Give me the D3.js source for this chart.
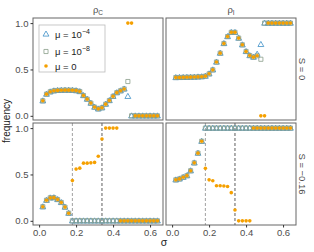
<!DOCTYPE html>
<html><head><meta charset="utf-8">
<script src="https://cdn.jsdelivr.net/npm/d3@7"></script>
<style>body{margin:0;background:#fff}svg{display:block;font-family:"Liberation Sans",Arial,sans-serif}</style>
</head><body><svg id="c" width="314" height="252"></svg>
<script>
const sigma = [0.02,0.04,0.06,0.08,0.10,0.12,0.14,0.16,0.18,0.20,0.22,0.24,0.26,0.28,0.30,0.32,0.34,0.36,0.38,0.40,0.42,0.44,0.46,0.48,0.50,0.52,0.54,0.56,0.58,0.60,0.62,0.64];
const xTicks = [0, 0.2, 0.4, 0.6];
const xTickLabels = ["0.0","0.2","0.4","0.6"];
const yTicks = [0, 0.5, 1];
const yTickLabels = ["0.0","0.5","1.0"];
const colLabels = ["C","I"];
const rowLabels = ["S = 0","S = \u22120.16"];
const seriesNames = ["mu4","mu8","mu0"];
const legendExp = ["\u22124","\u22128",null];
const vlines = [0.18, 0.34];

// rhoC, S = 0
const rhoC_S0_mu4 = [0.162,0.234,0.259,0.27,0.274,0.276,0.277,0.277,0.276,0.272,0.262,0.219,0.18,0.137,0.094,0.075,0.087,0.126,0.165,0.21,0.25,0.27,0.29,0.21,0,0,0,0,0,0,0,0];
const rhoC_S0_mu8 = [0.162,0.234,0.259,0.27,0.274,0.276,0.277,0.277,0.276,0.272,0.262,0.219,0.18,0.137,0.094,0.075,0.087,0.126,0.165,0.21,0.25,0.27,0.29,0.37,0,0,0,0,0,0,0,0];
const rhoC_S0_mu0 = [0.162,0.234,0.259,0.27,0.274,0.276,0.277,0.277,0.276,0.272,0.262,0.219,0.18,0.137,0.094,0.075,0.087,0.126,0.165,0.21,0.25,0.27,0.29,1,1,0,0,0,0,0,0,0];
// rhoI, S = 0
const rhoI_S0_mu4 = [0.413,0.414,0.415,0.416,0.417,0.418,0.42,0.422,0.428,0.453,0.496,0.58,0.676,0.78,0.855,0.9,0.9,0.838,0.766,0.694,0.65,0.633,0.665,0.77,1,1,1,1,1,1,1,1];
const rhoI_S0_mu8 = [0.413,0.414,0.415,0.416,0.417,0.418,0.42,0.422,0.428,0.453,0.496,0.58,0.676,0.78,0.855,0.9,0.9,0.838,0.766,0.694,0.65,0.633,0.648,0.61,1,1,1,1,1,1,1,1];
const rhoI_S0_mu0 = [0.413,0.414,0.415,0.416,0.417,0.418,0.42,0.422,0.428,0.453,0.496,0.58,0.676,0.78,0.855,0.9,0.9,0.838,0.766,0.694,0.65,0.633,0.648,0,0,1,1,1,1,1,1,1];
// rhoC, S = -0.16
const rhoC_Sm_mu4 = [0.152,0.222,0.248,0.25,0.23,0.198,0.148,0.082,0,0,0,0,0,0,0,0,0,0,0,0,0,0,0,0,0,0,0,0,0,0,0,0];
const rhoC_Sm_mu8 = [0.152,0.222,0.248,0.25,0.23,0.198,0.148,0.082,0,0,0,0,0,0,0,0,0,0,0,0,0,0,0,0,0,0,0,0,0,0,0,0];
const rhoC_Sm_mu0 = [0.152,0.222,0.248,0.25,0.23,0.198,0.148,0.082,0.434,0.558,0.568,0.622,0.622,0.625,0.63,0.696,0.883,1,1,1,1,0,0,0,0,0,0,0,0,0,0,0];
// rhoI, S = -0.16
const rhoI_Sm_mu4 = [0.442,0.452,0.47,0.487,0.54,0.625,0.73,0.858,1,1,1,1,1,1,1,1,1,1,1,1,1,1,1,1,1,1,1,1,1,1,1,1];
const rhoI_Sm_mu8 = [0.442,0.452,0.47,0.487,0.54,0.625,0.73,0.858,1,1,1,1,1,1,1,1,1,1,1,1,1,1,1,1,1,1,1,1,1,1,1,1];
const rhoI_Sm_mu0 = [0.442,0.452,0.47,0.487,0.54,0.625,0.73,0.858,0.566,0.442,0.432,0.378,0.378,0.375,0.37,0.304,0.117,0,0,0,0,1,1,1,1,1,1,1,1,1,1,1];

const panels = [
  {r:0,c:0,s:[rhoC_S0_mu4,rhoC_S0_mu8,rhoC_S0_mu0],vl:false},
  {r:0,c:1,s:[rhoI_S0_mu4,rhoI_S0_mu8,rhoI_S0_mu0],vl:false},
  {r:1,c:0,s:[rhoC_Sm_mu4,rhoC_Sm_mu8,rhoC_Sm_mu0],vl:true},
  {r:1,c:1,s:[rhoI_Sm_mu4,rhoI_Sm_mu8,rhoI_Sm_mu0],vl:true}
];

const svg = d3.select("#c");
const colX = [33,166], rowY = [18,123], pw = 130, ph = 102;
const x = d3.scaleLinear().domain([-0.033,0.67]).range([0,pw]);
const y = d3.scaleLinear().domain([-0.045,1.055]).range([ph,0]);
const colors = {mu4:"#3d8fc7", mu8:"#8a9e8a", mu0:"#f5a000"};
const triPath = d3.symbol().type(d3.symbolTriangle).size(15);
const sqPath = d3.symbol().type(d3.symbolSquare).size(17);
const txtCol = "#4d4d4d";

function drawMarker(g, kind, cx, cy){
  if(kind==="mu4") g.append("path").attr("d",triPath()).attr("transform",`translate(${cx},${cy+0.4})`).attr("fill","none").attr("stroke",colors.mu4).attr("stroke-width",0.8);
  else if(kind==="mu8") g.append("path").attr("d",sqPath()).attr("transform",`translate(${cx},${cy})`).attr("fill","none").attr("stroke",colors.mu8).attr("stroke-width",0.8);
  else g.append("circle").attr("cx",cx).attr("cy",cy).attr("r",1.8).attr("fill",colors.mu0);
}

panels.forEach(p=>{
  const g = svg.append("g").attr("transform",`translate(${colX[p.c]},${rowY[p.r]})`);
  g.append("rect").attr("width",pw).attr("height",ph).attr("fill","#fff");
  if(p.vl){
    vlines.forEach((v,i)=>{
      g.append("line").attr("x1",x(v)).attr("x2",x(v)).attr("y1",0).attr("y2",ph)
        .attr("stroke", i===0?"#8a8a8a":"#333").attr("stroke-width",0.8).attr("stroke-dasharray","3,2");
    });
  }
  p.s.forEach((arr,k)=>{
    const kind = seriesNames[k];
    sigma.forEach((sv,i)=>{ drawMarker(g, kind, x(sv), y(arr[i])); });
  });
  g.append("rect").attr("width",pw).attr("height",ph).attr("fill","none").attr("stroke","#666").attr("stroke-width",1);
  if(p.r===1){
    const ax = g.append("g").attr("transform",`translate(0,${ph})`)
      .call(d3.axisBottom(x).tickValues(xTicks).tickFormat((d,i)=>xTickLabels[i]).tickSize(2.5).tickPadding(2));
    ax.select(".domain").remove();
    ax.selectAll("line").attr("stroke","#333");
    ax.selectAll("text").attr("fill",txtCol).attr("font-size",9.5).attr("font-family","Liberation Sans, Arial, sans-serif");
  }
  if(p.c===0){
    const ay = g.append("g").call(d3.axisLeft(y).tickValues(yTicks).tickFormat((d,i)=>yTickLabels[i]).tickSize(2.5).tickPadding(2));
    ay.select(".domain").remove();
    ay.selectAll("line").attr("stroke","#333");
    ay.selectAll("text").attr("fill",txtCol).attr("font-size",9.5).attr("font-family","Liberation Sans, Arial, sans-serif");
  }
});

// column strips
colLabels.forEach((l,i)=>{
  const t = svg.append("text").attr("x",colX[i]+pw/2).attr("y",13).attr("text-anchor","middle")
    .attr("fill",txtCol).attr("font-size",9.5);
  t.append("tspan").text("\u03c1");
  t.append("tspan").attr("font-size",6.5).attr("dy",2).text(l);
});
// row strips
rowLabels.forEach((l,i)=>{
  svg.append("text").attr("transform",`translate(${299},${rowY[i]+ph/2}) rotate(90)`)
    .attr("text-anchor","middle").attr("fill",txtCol).attr("font-size",9.5).text(l);
});
// axis titles
svg.append("text").attr("transform",`translate(10,121) rotate(-90)`).attr("text-anchor","middle")
  .attr("fill","#222").attr("font-size",10).text("frequency");
svg.append("text").attr("x",164).attr("y",246).attr("text-anchor","middle")
  .attr("fill","#222").attr("font-size",10.5).text("\u03c3");

// legend
const lg = svg.append("g").attr("transform","translate(39,25)");
lg.append("rect").attr("width",66).attr("height",47).attr("fill","#fff").attr("stroke","#bbb").attr("stroke-width",0.8);
const rowsY = [9, 26.5, 41];
seriesNames.forEach((k,i)=>{
  drawMarker(lg, k, 7, rowsY[i]);
  const t = lg.append("text").attr("x",16).attr("y",rowsY[i]+3.5).attr("fill","#222").attr("font-size",9.5);
  if(legendExp[i]){
    t.append("tspan").text("\u03bc = 10");
    t.append("tspan").attr("font-size",7).attr("dy",-4).text(legendExp[i]);
  } else {
    t.text("\u03bc = 0");
  }
});
</script></body></html>
